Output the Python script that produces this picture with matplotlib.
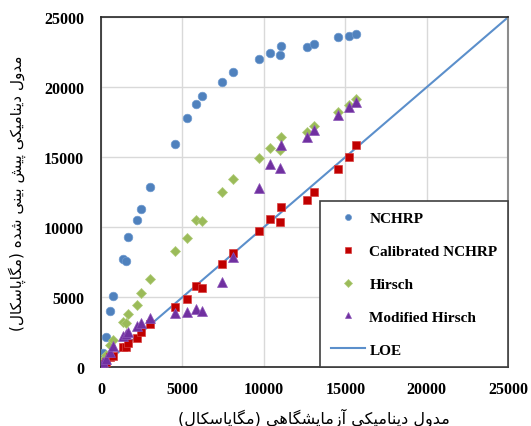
import matplotlib
matplotlib.use("Agg")
from matplotlib import pyplot as plt

# lab modulus (x) and predicted modulus for each model (MPa)
lab = [50, 150, 310, 570, 720, 1330, 1540, 1680, 2190, 2480, 3000, 4530, 5280, 5860,
       6180, 7450, 8090, 9690, 10360, 11000, 11040, 12630, 13100, 14580, 15230, 15660]
nchrp = [350, 1000, 2190, 4040, 5070, 7710, 7570, 9290, 10540, 11330, 12900, 15930, 17800,
         18800, 19400, 20400, 21070, 22000, 22450, 22300, 22930, 22870, 23100, 23570, 23660, 23780]
calibrated = [60, 200, 400, 700, 830, 1430, 1430, 1700, 2070, 2540, 3090, 4290, 4860, 5790,
              5640, 7380, 8160, 9710, 10570, 10400, 11470, 11950, 12500, 14160, 15040, 15880]
hirsch = [150, 500, 900, 1600, 1950, 3210, 3160, 3810, 4450, 5290, 6330, 8330, 9240, 10500,
          10450, 12550, 13440, 14960, 15650, 15480, 16430, 16770, 17200, 18260, 18740, 19160]
mod_hirsch = [100, 350, 600, 1100, 1540, 2260, 2360, 2540, 2930, 3160, 3500, 3860, 3970, 4160,
              4040, 6070, 7900, 12820, 14540, 14250, 15900, 16430, 16970, 18040, 18570, 18930]
loe = [0, 25000]
ticks = [0, 5000, 10000, 15000, 20000, 25000]

xlabel = "مدول دینامیکی آزمایشگاهی (مگاپاسکال)"
ylabel = "مدول دینامیکی پیش بینی شده (مگاپاسکال)"

# no complex text layout in matplotlib, so join the persian letters by hand
FORMS = {
    'ا': '\uFE8D\uFE8E\uFE8D\uFE8E', 'آ': '\uFE81\uFE82\uFE81\uFE82',
    'ب': '\uFE8F\uFE90\uFE91\uFE92', 'پ': '\uFB56\uFB57\uFB58\uFB59',
    'د': '\uFEA9\uFEAA\uFEA9\uFEAA', 'ز': '\uFEAF\uFEB0\uFEAF\uFEB0',
    'س': '\uFEB1\uFEB2\uFEB3\uFEB4', 'ش': '\uFEB5\uFEB6\uFEB7\uFEB8',
    'ک': '\uFB8E\uFB8F\uFB90\uFB91', 'گ': '\uFB92\uFB93\uFB94\uFB95',
    'ل': '\uFEDD\uFEDE\uFEDF\uFEE0', 'م': '\uFEE1\uFEE2\uFEE3\uFEE4',
    'ن': '\uFEE5\uFEE6\uFEE7\uFEE8', 'ه': '\uFEE9\uFEEA\uFEEB\uFEEC',
    'و': '\uFEED\uFEEE\uFEED\uFEEE', 'ی': '\uFBFC\uFBFD\uFBFE\uFBFF',
}
RIGHT_ONLY = 'اآدزو'

def shape(word):
    out = []
    for i, c in enumerate(word):
        if c not in FORMS:
            out.append(c)
            continue
        prev = word[i - 1] if i > 0 else ''
        nxt = word[i + 1] if i < len(word) - 1 else ''
        jp = prev in FORMS and prev not in RIGHT_ONLY
        jn = nxt in FORMS and c not in RIGHT_ONLY
        out.append(FORMS[c][int(jp) + 2 * int(jn)])
    return ''.join(reversed(out)).translate(str.maketrans('()', ')('))

def rtl(text):
    return ' '.join(shape(w) for w in reversed(text.split()))

plt.rcParams['font.family'] = ['Liberation Serif', 'DejaVu Sans']

fig = plt.figure(figsize=(5.31, 4.27), dpi=100)
ax = fig.add_axes([0.190, 0.1375, 0.767, 0.820])

ax.plot(loe, loe, color="#5B8FCB", linewidth=1.5, label="LOE", zorder=2)
ax.plot(lab, nchrp, linestyle='none', marker='o', markersize=6.2, color="#4F81BD",
        markeredgecolor="#6E9AD0", markeredgewidth=0.5, label="NCHRP", zorder=3)
ax.plot(lab, calibrated, linestyle='none', marker='s', markersize=6, color="#C00000",
        markeredgecolor="#D84040", markeredgewidth=0.5, label="Calibrated NCHRP", zorder=4)
ax.plot(lab, hirsch, linestyle='none', marker='D', markersize=5.3, color="#9BBB59",
        markeredgecolor="#B0CC7A", markeredgewidth=0.5, label="Hirsch", zorder=3)
ax.plot(lab, mod_hirsch, linestyle='none', marker='^', markersize=7, color="#7030A0",
        markeredgecolor="#8C55B8", markeredgewidth=0.5, label="Modified Hirsch", zorder=5)

ax.set_xlim(0, 25000)
ax.set_ylim(0, 25000)
ax.set_xticks(ticks)
ax.set_yticks(ticks)
ax.tick_params(length=0, labelsize=11.5)
ax.tick_params(axis='y', pad=12)
ax.tick_params(axis='x', pad=10)
for t in ax.get_xticklabels() + ax.get_yticklabels():
    t.set_fontweight('bold')
ax.grid(True, color="#D9D9D9", linewidth=1)
ax.set_axisbelow(True)
for s in ['left', 'bottom', 'top']:
    ax.spines[s].set_color("#262626")
    ax.spines[s].set_linewidth(1.2)
ax.spines['right'].set_color("#8C8C8C")
ax.spines['right'].set_linewidth(1.5)

handles, labels = ax.get_legend_handles_labels()
order = [1, 2, 3, 4, 0]
leg = ax.legend([handles[i] for i in order], [labels[i] for i in order],
                loc='lower right', bbox_to_anchor=(1, 0), borderaxespad=0,
                prop={'family': 'Liberation Serif', 'weight': 'bold', 'size': 11},
                markerscale=0.7, handlelength=2.2, handletextpad=0.3,
                labelspacing=1.25, borderpad=0.7, fancybox=False, framealpha=1)
leg.get_frame().set_edgecolor("#404040")
leg.get_frame().set_linewidth(1.2)

fig.text(0.591, 0.021, rtl(xlabel), family='DejaVu Sans', fontsize=11.5,
         ha='center', va='center')
fig.text(0.032, 0.548, rtl(ylabel), family='DejaVu Sans', fontsize=11,
         ha='center', va='center', rotation=90)

fig.savefig("out.png", dpi=100)
